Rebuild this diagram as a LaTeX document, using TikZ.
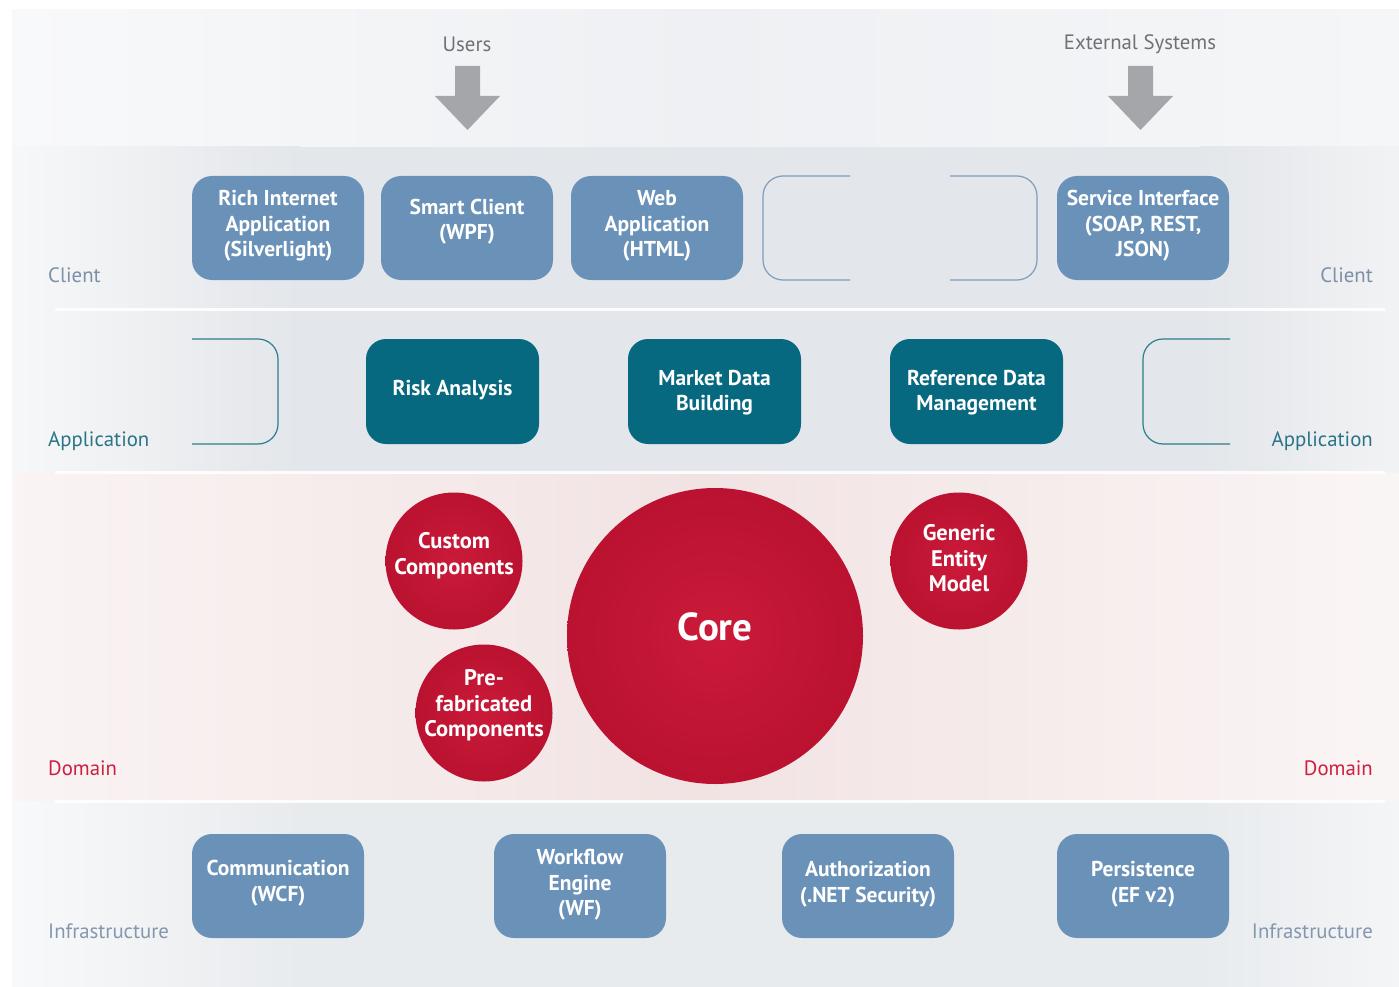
\documentclass[tikz,border=0pt]{standalone}
\usepackage{fontspec}
\setmainfont{PT Sans}
\usetikzlibrary{fadings}
\definecolor{boxblue}{HTML}{6A92B8}
\definecolor{appteal}{HTML}{06697F}
\definecolor{bubred}{HTML}{BA1230}
\definecolor{bubredin}{HTML}{CB1A3A}
\definecolor{clientlbl}{HTML}{7D90A8}
\definecolor{applbl}{HTML}{2A7488}
\definecolor{domlbl}{HTML}{CF1F40}
\definecolor{infralbl}{HTML}{8497AE}
\definecolor{toptext}{HTML}{6E7176}
\definecolor{arrowgray}{HTML}{A4A6A9}
\definecolor{outlineblue}{HTML}{7F9DBB}
\definecolor{outlineteal}{HTML}{2F7C8E}
\definecolor{topbg}{HTML}{EEF0F3}
\definecolor{bandbg}{HTML}{E3E6EA}
\definecolor{infrabg}{HTML}{E8EBEE}
\definecolor{pinkbg}{HTML}{F2E3E3}
\tikzset{
  cbox/.style={rectangle, rounded corners=20pt, fill=boxblue, minimum width=172pt, minimum height=104pt, inner sep=0pt},
  abox/.style={rectangle, rounded corners=20pt, fill=appteal, minimum width=173pt, minimum height=105pt, inner sep=0pt},
  btext/.style={text=white, font=\fontsize{21.5}{25.5}\selectfont\bfseries, align=center, inner sep=0pt},
  bubble/.style={circle, inner sep=0pt, inner color=bubredin, outer color=bubred},
  bubtext/.style={text=white, font=\fontsize{22.5}{25.5}\selectfont\bfseries, align=center, inner sep=0pt},
  lbl/.style={font=\fontsize{20.8}{24}\selectfont, inner sep=0pt},
  sepline/.style={white, line width=3pt, opacity=0.9},
  bracket/.style={line width=1.2pt, rounded corners=20pt}
}
\begin{document}
\begin{tikzpicture}[x=1pt,y=-1pt]
\useasboundingbox (0,0) rectangle (1399,987);
\fill[white] (0,0) rectangle (1399,987);
% background bands
\shade[left color=topbg!40!white, right color=topbg] (12,10) rectangle (700,147);
\shade[left color=topbg, right color=topbg!60!white] (700,10) rectangle (1399,147);
\shade[left color=bandbg!30!white, right color=bandbg] (12,147) rectangle (300,309);
\fill[bandbg] (300,147) rectangle (1200,309);
\shade[left color=bandbg, right color=bandbg!50!white] (1200,147) rectangle (1399,309);
\shade[left color=bandbg!30!white, right color=bandbg] (12,309) rectangle (300,473);
\fill[bandbg] (300,309) rectangle (1200,473);
\shade[left color=bandbg, right color=bandbg!50!white] (1200,309) rectangle (1399,473);
\shade[left color=pinkbg!40!white, right color=pinkbg] (12,473) rectangle (700,801);
\shade[left color=pinkbg, right color=pinkbg!35!white] (700,473) rectangle (1399,801);
\shade[left color=infrabg!30!white, right color=infrabg] (12,801) rectangle (300,987);
\fill[infrabg] (300,801) rectangle (1200,987);
\shade[left color=infrabg, right color=infrabg!50!white] (1200,801) rectangle (1399,987);
% separators
\draw[sepline] (55,309) -- (1385,309);
\draw[sepline] (55,472) -- (1385,472);
\draw[sepline] (55,801) -- (1385,801);

% top labels and arrows
\node[lbl, text=toptext] (users) at (467,44) {Users};
\node[lbl, text=toptext] (ext) at (1140,44) {External Systems};
\fill[arrowgray] (455,66) -- (480,66) -- (480,96) -- (500,96) -- (467.5,130) -- (435,96) -- (455,96) -- cycle;
\fill[arrowgray] (1128,66) -- (1153,66) -- (1153,96) -- (1173,96) -- (1140.5,130) -- (1108,96) -- (1128,96) -- cycle;

% client layer
\node[cbox] (rich) at (278,228) {};
\node[btext] (richT) at (278,226) {Rich Internet\\Application\\(Silverlight)};
\node[cbox] (smart) at (467,228) {};
\node[btext] (smartT) at (467,221.5) {Smart Client\\(WPF)};
\node[cbox] (web) at (657,228) {};
\node[btext] (webT) at (657,226) {Web\\Application\\(HTML)};
\draw[outlineblue, bracket] (850,176) -- (763,176) -- (763,280) -- (850,280);
\draw[outlineblue, bracket] (950,176) -- (1037,176) -- (1037,280) -- (950,280);
\node[cbox] (svc) at (1143,228) {};
\node[btext] (svcT) at (1143,226) {Service Interface\\(SOAP, REST,\\JSON)};
\node[lbl, text=clientlbl, anchor=base west] (clientL) at (48,282) {Client};
\node[lbl, text=clientlbl, anchor=base east] (clientR) at (1373,282) {Client};

% application layer
\draw[outlineteal, bracket] (192,339) -- (278,339) -- (278,444) -- (192,444);
\draw[outlineteal, bracket] (1230,339) -- (1143,339) -- (1143,444) -- (1230,444);
\node[abox] (risk) at (452.5,391.5) {};
\node[btext] (riskT) at (452.5,390) {Risk Analysis};
\node[abox] (market) at (714.5,391.5) {};
\node[btext] (marketT) at (714.5,392.5) {Market Data\\Building};
\node[abox] (refdata) at (976.5,391.5) {};
\node[btext] (refdataT) at (976.5,392.5) {Reference Data\\Management};
\node[lbl, text=applbl, anchor=base west] (appL) at (48,446) {Application};
\node[lbl, text=applbl, anchor=base east] (appR) at (1373,446) {Application};

% domain layer
\node[bubble, minimum size=296pt] (core) at (715,636) {};
\node[text=white, font=\fontsize{39}{44}\selectfont\bfseries, inner sep=0pt] (coreT) at (715,627) {Core};
\node[bubble, minimum size=137pt] (custom) at (454,561) {};
\node[bubtext] (customT) at (454,555.5) {Custom\\Components};
\node[bubble, minimum size=137pt] (prefab) at (484,713) {};
\node[bubtext] (prefabT) at (484,705.5) {Pre-\\fabricated\\Components};
\node[bubble, minimum size=137pt] (generic) at (959,561) {};
\node[bubtext] (genericT) at (959,558.5) {Generic\\Entity\\Model};
\node[lbl, text=domlbl, anchor=base west] (domL) at (48,775) {Domain};
\node[lbl, text=domlbl, anchor=base east] (domR) at (1373,775) {Domain};

% infrastructure layer
\node[cbox] (comm) at (278,886) {};
\node[btext] (commT) at (278,883) {Communication\\(WCF)};
\node[cbox] (wf) at (580,886) {};
\node[btext] (wfT) at (580,885) {Workflow\\Engine\\(WF)};
\node[cbox] (auth) at (868,886) {};
\node[btext] (authT) at (868,884) {Authorization\\(.NET Security)};
\node[cbox] (pers) at (1143,886) {};
\node[btext] (persT) at (1143,884) {Persistence\\(EF v2)};
\node[lbl, text=infralbl, anchor=base west] (infL) at (48,938) {Infrastructure};
\node[lbl, text=infralbl, anchor=base east] (infR) at (1373,938) {Infrastructure};
\end{tikzpicture}
\end{document}
